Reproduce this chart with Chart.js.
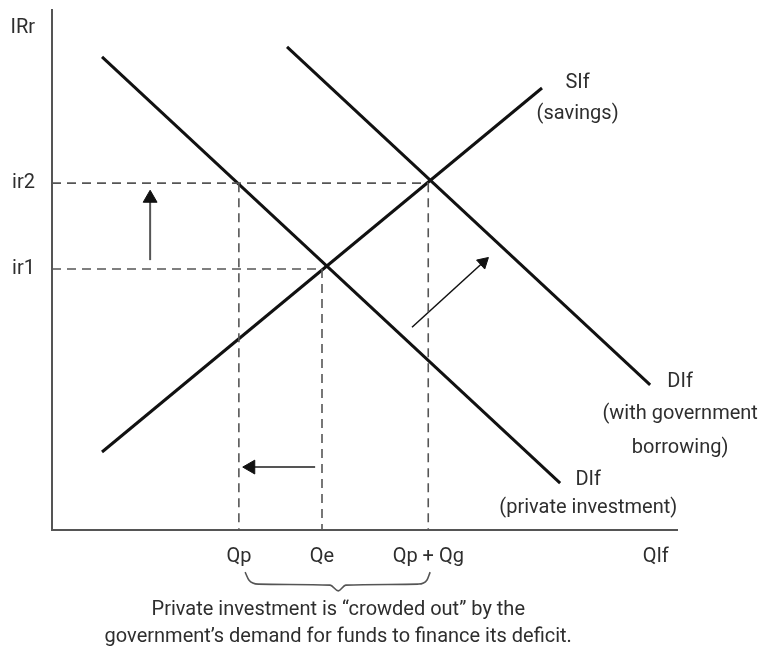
<!DOCTYPE html>
<html lang="en">
<head>
    <meta charset="UTF-8">
    <title>Crowding out</title>
    <script src="https://cdn.jsdelivr.net/npm/chart.js"></script>
    <style>
        body { margin: 0; background: #fff; }
        canvas { display: block; }
    </style>
</head>
<body>
    <canvas id="crowdChart" width="762" height="660"></canvas>

    <script>
        // axis ticks (data units 0..100 on both axes)
        const xTickValues = [29.9, 43.2, 60.2, 96.6];
        const xTickLabels = ["Qp", "Qe", "Qp + Qg", "QIf"];
        const yTickValues = [50.2, 66.7, 96.5];
        const yTickLabels = ["ir1", "ir2", "IRr"];

        // curves
        const demandPrivate = [{x: 8.0, y: 91.0}, {x: 81.3, y: 9.0}];
        const demandGov = [{x: 37.6, y: 92.9}, {x: 95.7, y: 27.9}];
        const supply = [{x: 8.0, y: 15.0}, {x: 78.4, y: 85.0}];

        // dashed guides
        const guideIr2 = [{x: 0, y: 66.7}, {x: 60.2, y: 66.7}];
        const guideIr1 = [{x: 0, y: 50.2}, {x: 43.2, y: 50.2}];
        const guideQp = [{x: 29.9, y: 66.7}, {x: 29.9, y: 0}];
        const guideQe = [{x: 43.2, y: 50.2}, {x: 43.2, y: 0}];
        const guideQpg = [{x: 60.2, y: 66.7}, {x: 60.2, y: 0}];

        // arrows (last point carries the head)
        const arrowUp = [{x: 15.7, y: 51.9}, {x: 15.7, y: 63.8}];
        const arrowLeft = [{x: 42.1, y: 12.1}, {x: 31.8, y: 12.1}];
        const arrowShift = [{x: 57.6, y: 39.0}, {x: 69.0, y: 51.5}];

        // brace under the x axis
        const brace = [
            {x: 30.9, y: -8.1}, {x: 31.5, y: -9.6}, {x: 33.0, y: -10.4},
            {x: 44.5, y: -10.6}, {x: 45.8, y: -11.7}, {x: 47.0, y: -10.6},
            {x: 58.6, y: -10.4}, {x: 60.0, y: -9.6}, {x: 60.5, y: -8.1}
        ];

        // text annotations
        const notes = [
            {text: "SIf", x: 84.1, y: 86.0},
            {text: "(savings)", x: 84.1, y: 80.0},
            {text: "DIf", x: 100.5, y: 28.5},
            {text: "(with government", x: 100.5, y: 22.3},
            {text: "borrowing)", x: 100.5, y: 15.8},
            {text: "DIf", x: 85.8, y: 9.6},
            {text: "(private investment)", x: 85.8, y: 4.2},
            {text: "Private investment is \u201ccrowded out\u201d by the", x: 45.8, y: -15.3},
            {text: "government\u2019s demand for funds to finance its deficit.", x: 45.8, y: -20.6}
        ];

        const FONT = "Roboto, 'Noto Sans', sans-serif";
        const INK = "#111";
        const GREY = "#555";
        const TEXT = "#2e2e2e";

        function solid(data, color, width) {
            return { data: data, showLine: true, borderColor: color, borderWidth: width, pointRadius: 0, fill: false };
        }
        function dashed(data) {
            return { data: data, showLine: true, borderColor: GREY, borderWidth: 1.6, borderDash: [9, 6], pointRadius: 0, fill: false };
        }
        function arrow(data, color, width, angle, size) {
            return {
                data: data, showLine: true, borderColor: color, borderWidth: width,
                pointStyle: "triangle", pointRadius: [0, size], pointRotation: angle,
                pointBackgroundColor: INK, pointBorderColor: INK, pointBorderWidth: 1, fill: false
            };
        }

        const notesPlugin = {
            id: "notes",
            afterDraw(chart) {
                const ctx = chart.ctx;
                const xs = chart.scales.x, ys = chart.scales.y;
                ctx.save();
                ctx.fillStyle = TEXT;
                ctx.font = "20px " + FONT;
                ctx.textAlign = "center";
                ctx.textBaseline = "middle";
                notes.forEach(n => {
                    ctx.fillText(n.text, xs.getPixelForValue(n.x), ys.getPixelForValue(n.y));
                });
                ctx.restore();
            }
        };

        window.onload = function() {
            const ctx = document.getElementById("crowdChart").getContext("2d");
            new Chart(ctx, {
                type: "scatter",
                data: {
                    datasets: [
                        dashed(guideIr2), dashed(guideIr1), dashed(guideQp), dashed(guideQe), dashed(guideQpg),
                        solid(demandPrivate, INK, 3),
                        solid(demandGov, INK, 3),
                        solid(supply, INK, 3),
                        arrow(arrowUp, GREY, 2, 0, 8),
                        arrow(arrowLeft, GREY, 2, -90, 8),
                        arrow(arrowShift, INK, 1.5, 47.7, 7),
                        Object.assign(solid(brace, GREY, 1.6), { clip: false, cubicInterpolationMode: "monotone" })
                    ]
                },
                options: {
                    responsive: false,
                    animation: false,
                    devicePixelRatio: 1,
                    layout: { padding: { top: 10, right: 85, left: 0, bottom: 0 } },
                    plugins: { legend: { display: false }, tooltip: { enabled: false } },
                    elements: { line: { tension: 0 } },
                    scales: {
                        x: {
                            type: "linear", min: 0, max: 100,
                            grid: { display: false, drawTicks: false },
                            border: { display: true, color: GREY, width: 2 },
                            afterBuildTicks: s => { s.ticks = xTickValues.map(v => ({ value: v })); },
                            afterFit: s => { s.height = 130; s.paddingLeft = 0; s.paddingRight = 0; },
                            ticks: {
                                autoSkip: false, maxRotation: 0, padding: 15,
                                color: TEXT, font: { size: 20, family: FONT },
                                callback: (v, i) => xTickLabels[i]
                            }
                        },
                        y: {
                            type: "linear", min: 0, max: 100,
                            grid: { display: false, drawTicks: false },
                            border: { display: true, color: GREY, width: 2 },
                            afterBuildTicks: s => { s.ticks = yTickValues.map(v => ({ value: v })); },
                            afterFit: s => { s.width = 52; s.paddingTop = 0; s.paddingBottom = 0; },
                            ticks: {
                                autoSkip: false, padding: 17,
                                color: TEXT, font: { size: 20, family: FONT },
                                callback: (v, i) => yTickLabels[i]
                            }
                        }
                    }
                },
                plugins: [notesPlugin]
            });
        };
    </script>
</body>
</html>
